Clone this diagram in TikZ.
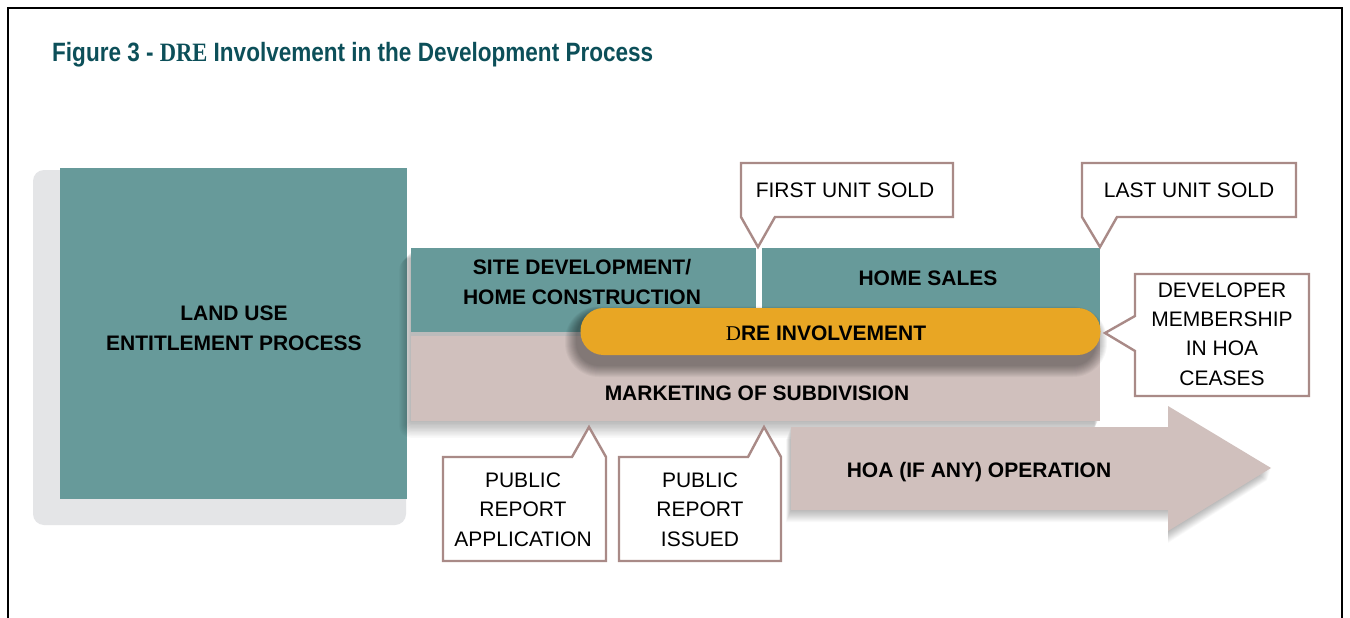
\documentclass[tikz,border=0pt]{standalone}
\usepackage{fontspec}
\setmainfont{Liberation Sans}
\newfontfamily\seriffont{Liberation Serif}
\definecolor{teal1}{HTML}{679A9A}
\definecolor{mauve}{HTML}{D0C0BD}
\definecolor{dreorange}{HTML}{E8A624}
\definecolor{callline}{HTML}{A98A87}
\definecolor{shadowgray}{HTML}{E4E5E7}
\definecolor{titlecol}{HTML}{0C4F59}
\begin{document}
\begin{tikzpicture}[x=1pt,y=-1pt,
  box/.style={draw=none, inner sep=0pt, outer sep=0pt},
  lbl/.style={align=center, font=\bfseries\fontsize{21}{30}\selectfont, inner sep=0pt},
  calltxt/.style={align=center, font=\fontsize{21}{29.4}\selectfont, inner sep=0pt},
  callout/.style={draw=callline, fill=white, line width=2.4pt, line join=miter},
  shadelayer/.style={fill=black, opacity=#1},
  shadelayer/.default=0.03
]
\useasboundingbox (0,0) rectangle (1350,618);
\fill[white] (0,0) rectangle (1350,618);
% frame
\draw[black, line width=1.8pt] (8,640) -- (8,8) -- (1342,8) -- (1342,640);
% title
\node[anchor=base west, inner sep=0pt, text=titlecol] (title) at (52,62)
  {\resizebox{601pt}{\height}{\bfseries\fontsize{26.5}{30}\selectfont Figure 3 - {\seriffont DRE} Involvement in the Development Process}};

% land use box with its soft backdrop
\fill[shadowgray, rounded corners=11pt] (33,170) rectangle (406,525);
\node[box, fill=teal1, minimum width=347pt, minimum height=331pt, anchor=north west] (land) at (60,168) {};
\node[lbl] (landtxt) at (234,328.5) {LAND USE\\ENTITLEMENT PROCESS};

% soft shadow of the middle group
\foreach \i in {1,...,12}{
  \fill[shadelayer=0.022, rounded corners={\i pt}]
    ({411-\i},{252+0.5*\i}) rectangle ({1098-0.3*\i},{421+1.4*\i});
}
% site development / home sales / marketing
\node[box, fill=mauve, minimum width=689pt, minimum height=85pt, anchor=north west] (mkt) at (411,336) {};
\node[box, fill=teal1, minimum width=345pt, minimum height=84pt, anchor=north west] (site) at (411,248) {};
\node[box, fill=teal1, minimum width=338pt, minimum height=84pt, anchor=north west] (sales) at (762,248) {};
\fill[white] (site.north east) rectangle (sales.south west);
\node[lbl] (sitetxt) at (582,281.5) {SITE DEVELOPMENT/\\HOME CONSTRUCTION};
\node[lbl] (salestxt) at (928,278) {HOME SALES};
\node[lbl] (mkttxt) at (757,393) {MARKETING OF SUBDIVISION};

% soft shadow under the DRE bar
\foreach \i in {0,...,11}{
  \fill[shadelayer=0.035, rounded corners={23pt+\i pt}]
    ({576-\i},{313-\i*0.6}) rectangle ({1096+\i},{366+\i});
}
% DRE involvement bar
\node[box, fill=dreorange, rounded corners=23pt, minimum width=520pt, minimum height=47pt] (dre) at (840.5,331.5) {};
\node[lbl] (dretxt) at (826,333) {{\mdseries\seriffont D}RE INVOLVEMENT};

% soft shadow under the HOA arrow
\foreach \i in {1,...,12}{
  \fill[shadelayer=0.022]
    ({791-0.4*\i},{427+\i}) -- ({1168},{427+\i}) -- ({1168},{406+\i}) -- ({1271-0.3*\i},{468+\i})
    -- ({1168},{531+\i}) -- ({1168},{510+\i}) -- ({791-0.4*\i},{510+\i}) -- cycle;
}
% HOA arrow
\path[fill=mauve]
  (791,427) coordinate (hoaA) -- (1168,427) -- (1168,406) -- (1271,468) coordinate (hoatip) -- (1168,531) -- (1168,510) -- (791,510) -- cycle;
\node[lbl] (hoatxt) at (979,472) {HOA (IF ANY) OPERATION};

% callouts
\coordinate (firsttip) at (758,247);
\draw[callout] (741,163) -- (953,163) -- (953,217) -- (775,217) -- (firsttip) -- (741,217) -- cycle;
\node[calltxt] (first) at (845,190) {FIRST UNIT SOLD};

\coordinate (lasttip) at (1100,247);
\draw[callout] (1082,163) -- (1296,163) -- (1296,217) -- (1117,217) -- (lasttip) -- (1082,217) -- cycle;
\node[calltxt] (last) at (1189,190) {LAST UNIT SOLD};

\coordinate (devtip) at (1105,333);
\draw[callout] (1135,274) -- (1309,274) -- (1309,396) -- (1135,396) -- (1135,351) -- (devtip) -- (1135,316) -- cycle;
\node[calltxt] (dev) at (1222,334) {DEVELOPER\\MEMBERSHIP\\IN HOA\\CEASES};

\coordinate (apptip) at (589,427);
\draw[callout] (443,457) -- (572,457) -- (apptip) -- (606,457) -- (606,561) -- (443,561) -- cycle;
\node[calltxt] (app) at (523,509.5) {PUBLIC\\REPORT\\APPLICATION};

\coordinate (isstip) at (764,427);
\draw[callout] (619,457) -- (748,457) -- (isstip) -- (781,457) -- (781,561) -- (619,561) -- cycle;
\node[calltxt] (iss) at (700,509.5) {PUBLIC\\REPORT\\ISSUED};
\end{tikzpicture}
\end{document}
